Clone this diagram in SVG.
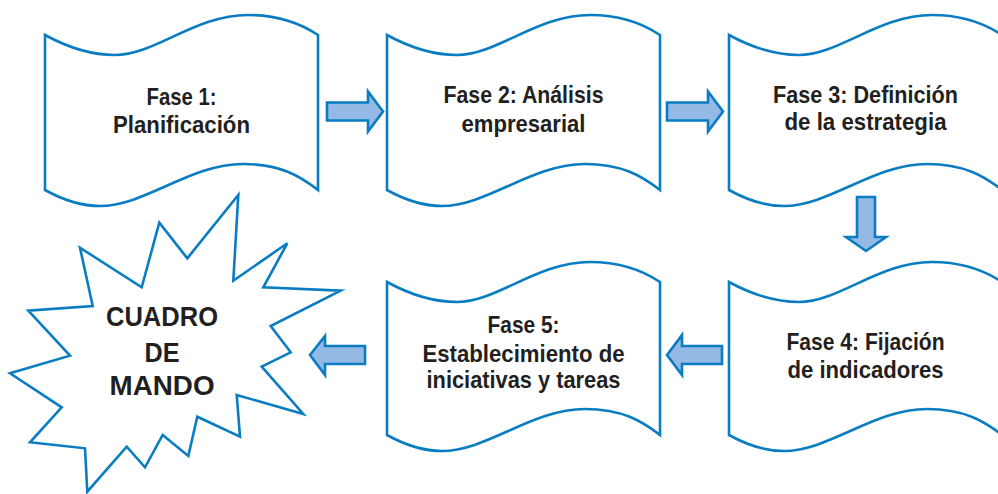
<svg xmlns="http://www.w3.org/2000/svg" width="998" height="494" viewBox="0 0 998 494">
  <style>
    .box { fill: #ffffff; stroke: #0a7dc2; stroke-width: 2.6; stroke-linejoin: miter; }
    .burst { fill: #ffffff; stroke: #0a7dc2; stroke-width: 2.6; stroke-linejoin: miter; }
    .arrow { fill: #93b9e4; stroke: #0a7dc2; stroke-width: 2.6; stroke-linejoin: miter; }
    .label { font-family: "Liberation Sans", Arial, sans-serif; font-weight: bold; font-size: 24px; fill: #231f20; text-anchor: middle; }
    .big { font-size: 28px; }
  </style>
  <rect width="998" height="494" fill="#ffffff"/>

  <!-- Phase 1 -->
  <g id="fase1">
    <path class="box" d="M45,35 C67,47 90,55 115,55 C155,55 195,15 248,15 C280,15 303,25 318,35 L318,190 C300,176 280,164 243,164 C190,164 145,206 100,206 C80,206 63,200 45,190 Z"/>
    <text class="label" x="181.5" y="105" textLength="70" lengthAdjust="spacingAndGlyphs">Fase 1:</text>
    <text class="label" x="181.5" y="133" textLength="137" lengthAdjust="spacingAndGlyphs">Planificación</text>
  </g>

  <!-- Phase 2 -->
  <g id="fase2">
    <path class="box" d="M387,35 C409,47 432,55 457,55 C497,55 537,15 590,15 C622,15 645,25 660,35 L660,190 C642,176 622,164 585,164 C532,164 487,206 442,206 C422,206 405,200 387,190 Z"/>
    <text class="label" x="523.5" y="103" textLength="160" lengthAdjust="spacingAndGlyphs">Fase 2: Análisis</text>
    <text class="label" x="523.5" y="132" textLength="124" lengthAdjust="spacingAndGlyphs">empresarial</text>
  </g>

  <!-- Phase 3 -->
  <g id="fase3">
    <path class="box" d="M729,35 C751,47 774,55 799,55 C839,55 879,15 932,15 C964,15 987,25 1002,35 L1002,190 C984,176 964,164 927,164 C874,164 829,206 784,206 C764,206 747,200 729,190 Z"/>
    <text class="label" x="865.5" y="103" textLength="185" lengthAdjust="spacingAndGlyphs">Fase 3: Definición</text>
    <text class="label" x="865.5" y="130" textLength="162" lengthAdjust="spacingAndGlyphs">de la estrategia</text>
  </g>

  <!-- Phase 4 -->
  <g id="fase4">
    <path class="box" d="M729,282 C751,294 774,302 799,302 C839,302 879,262 932,262 C964,262 987,272 1002,282 L1002,435 C984,421 964,409 927,409 C874,409 829,451 784,451 C764,451 747,445 729,435 Z"/>
    <text class="label" x="865.5" y="350" textLength="158" lengthAdjust="spacingAndGlyphs">Fase 4: Fijación</text>
    <text class="label" x="865.5" y="378" textLength="156" lengthAdjust="spacingAndGlyphs">de indicadores</text>
  </g>

  <!-- Phase 5 -->
  <g id="fase5">
    <path class="box" d="M387,282 C409,294 432,302 457,302 C497,302 537,262 590,262 C622,262 645,272 660,282 L660,435 C642,421 622,409 585,409 C532,409 487,451 442,451 C422,451 405,445 387,435 Z"/>
    <text class="label" x="523.5" y="333" textLength="72" lengthAdjust="spacingAndGlyphs">Fase 5:</text>
    <text class="label" x="523.5" y="362" textLength="202" lengthAdjust="spacingAndGlyphs">Establecimiento de</text>
    <text class="label" x="523.5" y="388" textLength="194" lengthAdjust="spacingAndGlyphs">iniciativas y tareas</text>
  </g>

  <!-- Result: starburst -->
  <g id="cuadro-de-mando">
    <polygon class="burst" points="238.3,195 233.3,280.7 287.3,243.3 263.3,287.3 340.7,290.7 270.7,326 290.7,352.3 261.7,366.7 303.3,414 236.7,395 240,436.7 197.3,416.7 188.3,456 162.7,435 145,467.3 126.7,446.7 87.3,491.7 85,448.3 30,442.3 61.7,407.3 10,373.3 70,355.7 28.3,310.7 92.7,306 80,247.7 141.7,287.3 159.3,222.7 187.3,258.3"/>
    <text class="label big" x="162" y="326" textLength="112" lengthAdjust="spacingAndGlyphs">CUADRO</text>
    <text class="label big" x="162" y="362" textLength="35" lengthAdjust="spacingAndGlyphs">DE</text>
    <text class="label big" x="162" y="395" textLength="105" lengthAdjust="spacingAndGlyphs">MANDO</text>
  </g>

  <!-- Block arrows between phases -->
  <g id="connectors">
    <polygon class="arrow" points="327,102.5 368,102.5 368,91.5 383,111.5 368,131.5 368,120.5 327,120.5"/>
    <polygon class="arrow" points="667,102.5 708,102.5 708,91.5 723,111.5 708,131.5 708,120.5 667,120.5"/>
    <polygon class="arrow" points="857,197 875,197 875,237 886,237 866,251 846,237 857,237"/>
    <polygon class="arrow" points="722,346 682,346 682,335 667,355 682,375 682,364 722,364"/>
    <polygon class="arrow" points="365,346 325,346 325,336 310,355 325,375 325,364 365,364"/>
  </g>
</svg>
